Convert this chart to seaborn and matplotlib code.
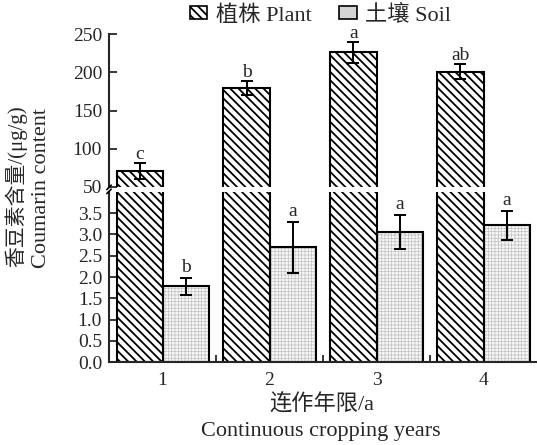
import matplotlib
matplotlib.use("Agg")
import matplotlib.pyplot as plt
from matplotlib.patches import Patch, Rectangle
import seaborn as sns
import pandas as pd

years = ["1", "2", "3", "4"]
plant = [70.5, 179.5, 226.5, 201.0]
plant_err = [10.5, 9.0, 14.0, 10.0]
soil = [1.78, 2.70, 3.06, 3.21]
soil_err = [0.20, 0.60, 0.40, 0.34]
plant_letters = ["c", "b", "a", "ab"]
soil_letters = ["b", "a", "a", "a"]
kinds = ["植株 Plant", "土壤 Soil"]

df = pd.DataFrame({
    "year": years * 2,
    "kind": [kinds[0]] * 4 + [kinds[1]] * 4,
    "value": plant + soil,
})

sns.set_style("ticks")
plt.rcParams["font.family"] = ["Liberation Serif", "Noto Sans CJK SC"]
plt.rcParams["hatch.linewidth"] = 1.3
plt.rcParams["axes.linewidth"] = 1.5

fig = plt.figure(figsize=(5.37, 4.45), dpi=100)
ax_top = fig.add_axes([0.203, 0.580, 0.797, 0.343])
ax_bot = fig.add_axes([0.203, 0.186, 0.797, 0.383])

for ax in (ax_top, ax_bot):
    sns.barplot(data=df, x="year", y="value", hue="kind", order=years,
                hue_order=kinds, palette=["white", "white"], width=0.86,
                gap=0, edgecolor="black", linewidth=1.5, legend=False, ax=ax)
    plant_bars, soil_bars = ax.containers[0], ax.containers[1]
    for p in plant_bars:
        p.set_hatch("\\\\\\\\")
    for p in soil_bars:
        p.set_hatch("+++++")
        p.set_facecolor("#f6f6f6")
        p.set_edgecolor("#c2c2c2")
        p.set_linewidth(0)
        if hasattr(p, "set_hatch_linewidth"):
            p.set_hatch_linewidth(0.5)
        ax.add_patch(Rectangle((p.get_x(), p.get_y()), p.get_width(), p.get_height(),
                               fill=False, edgecolor="black", linewidth=1.5))
    ax.set_xlim(-0.5, 3.5)
    ax.set_ylabel("")
    ax.set_xlabel("")
    sns.despine(ax=ax)
    ax.tick_params(axis="y", direction="in", length=6, width=1.3, labelsize=14, pad=5)

# error bars and letters
pb = ax_top.containers[0]
px = [p.get_x() + p.get_width() / 2 for p in pb]
ax_top.errorbar(px, plant, yerr=plant_err, fmt="none", ecolor="black",
                elinewidth=1.4, capsize=4.5, capthick=1.4)
for x, v, e, t in zip(px, plant, plant_err, plant_letters):
    ax_top.annotate(t, (x, v + e), xytext=(0, 0), textcoords="offset points",
                    ha="center", va="bottom", fontsize=14)

sb = ax_bot.containers[1]
sx = [p.get_x() + p.get_width() / 2 for p in sb]
ax_bot.errorbar(sx, soil, yerr=soil_err, fmt="none", ecolor="black",
                elinewidth=1.4, capsize=4.5, capthick=1.4)
for x, v, e, t in zip(sx, soil, soil_err, soil_letters):
    ax_bot.annotate(t, (x, v + e), xytext=(0, 1.5), textcoords="offset points",
                    ha="center", va="bottom", fontsize=14)

ax_top.set_ylim(50, 250)
ax_top.set_yticks([50, 100, 150, 200, 250])
ax_top.spines["bottom"].set_visible(False)
ax_top.tick_params(axis="x", bottom=False, labelbottom=False)

ax_bot.set_ylim(0, 4)
ax_bot.set_yticks([0, 0.5, 1, 1.5, 2, 2.5, 3, 3.5])
ax_bot.set_yticklabels(["0.0", "0.5", "1.0", "1.5", "2.0", "2.5", "3.0", "3.5"])
ax_bot.tick_params(axis="x", which="major", length=0, labelsize=14, pad=7)
ax_bot.set_xticks([0.5, 1.5, 2.5], minor=True)
ax_bot.tick_params(axis="x", which="minor", direction="in", length=5, width=1.3)

# break marks on the left axis
kw = dict(transform=fig.transFigure, color="black", lw=1.2, clip_on=False)
fig.add_artist(plt.Line2D([0.199, 0.207], [0.574, 0.584], **kw))
fig.add_artist(plt.Line2D([0.199, 0.207], [0.565, 0.575], **kw))

# axis titles
fig.text(0.600, 0.089, "连作年限/a", ha="center", va="center", fontsize=16)
fig.text(0.598, 0.030, "Continuous cropping years", ha="center", va="center", fontsize=16)
fig.text(0.030, 0.582, "香豆素含量/(μg/g)", rotation=90, ha="center", va="center", fontsize=15)
fig.text(0.078, 0.578, "Coumarin content", rotation=90, ha="center", va="center", fontsize=16)

handles = [Patch(facecolor="white", edgecolor="black", hatch="\\\\\\\\", linewidth=1.2),
           Patch(facecolor="#d4d4d4", edgecolor="black", linewidth=1.2)]
fig.legend(handles, kinds, loc="center", bbox_to_anchor=(0.597, 0.966), ncol=2,
           frameon=False, fontsize=16, handlelength=0.8, handleheight=0.5,
           handletextpad=0.4, columnspacing=1.2, borderaxespad=0.0, borderpad=0.0)

fig.savefig("out.png", dpi=100)
